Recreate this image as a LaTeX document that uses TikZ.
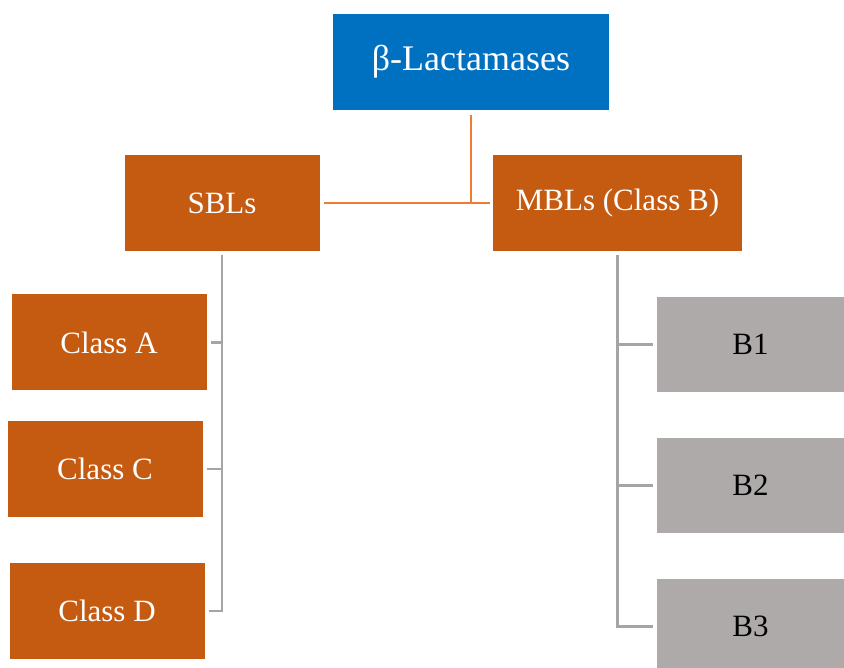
\documentclass[tikz,border=0pt]{standalone}
\usepackage{fontspec}
\setmainfont{Liberation Serif}
\definecolor{topblue}{HTML}{0070C0}
\definecolor{boxorange}{HTML}{C55A11}
\definecolor{lineorange}{HTML}{ED7D31}
\definecolor{boxgray}{HTML}{AEAAAA}
\definecolor{linegray}{HTML}{A5A5A5}
\begin{document}
\begin{tikzpicture}[
    x=1pt, y=-1pt,
    box/.style={inner sep=0pt, minimum height=96pt, align=center,
                font=\fontsize{31}{36}\selectfont},
    topbox/.style={box, fill=topblue, text=white, minimum width=276pt,
                   font=\fontsize{36}{42}\selectfont},
    orbox/.style={box, fill=boxorange, text=white, minimum width=195pt},
    grbox/.style={box, fill=boxgray, text=black, minimum width=188pt, minimum height=95pt},
    oline/.style={draw=lineorange, line width=2.8pt},
    gline/.style={draw=linegray, line width=2.8pt}
]
\useasboundingbox (0,0) rectangle (844,668);
\clip (0,0) rectangle (844,668);

\node[topbox] (lact) at (471, 62)  {β-Lactamases};
\node[orbox]  (sbl)  at (222, 203) {SBLs};
\node[orbox, minimum width=249pt] (mbl) at (617.5, 203) {MBLs (Class B)};

\node[orbox] (clsA) at (109, 342.5) {Class A};
\node[orbox] (clsC) at (105, 469)   {Class C};
\node[orbox] (clsD) at (107, 611)   {Class D};

\node[grbox] (bone)   at (750.5, 344.5) {B1};
\node[grbox] (btwo)   at (750.5, 485.5) {B2};
\node[grbox] (bthree) at (750.5, 626.5) {B3};

% top level
\draw[oline] ([yshift=-5pt]lact.south) -- (lact.south |- sbl.east);
\draw[oline] ([xshift=4pt]sbl.east) -- ([xshift=-3pt]mbl.west);

% serine classes
\draw[gline] ([yshift=-4pt]sbl.south) |- ([xshift=4pt]clsD.east);
\draw[gline] (sbl.south |- clsA.east) -- ([xshift=4pt]clsA.east);
\draw[gline] (sbl.south |- clsC.east) -- ([xshift=4pt]clsC.east);

% metallo subclasses
\draw[gline] ([yshift=-4pt]mbl.south) |- ([xshift=-3pt]bthree.west);
\draw[gline] (mbl.south |- bone.west) -- ([xshift=-3pt]bone.west);
\draw[gline] (mbl.south |- btwo.west) -- ([xshift=-3pt]btwo.west);
\end{tikzpicture}
\end{document}
